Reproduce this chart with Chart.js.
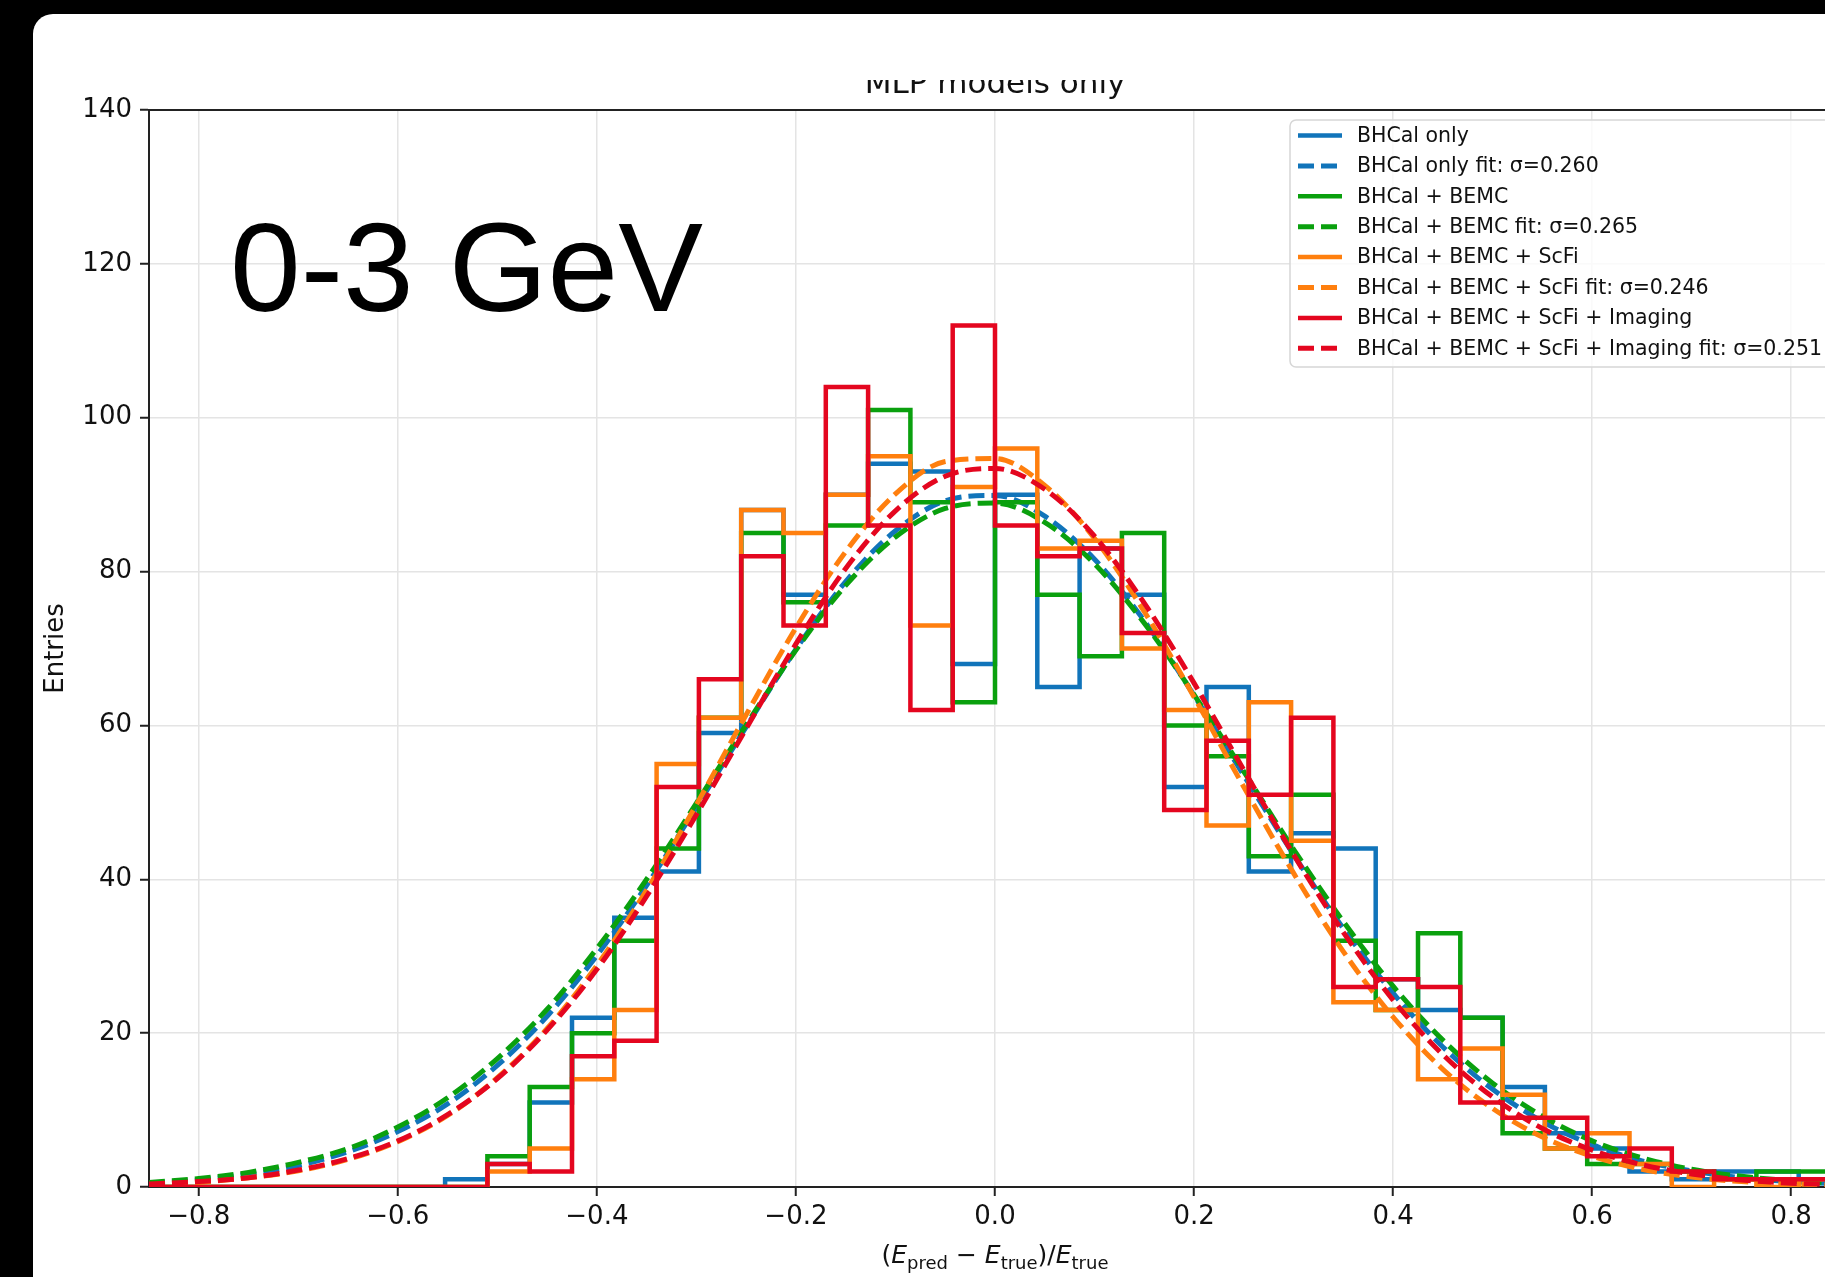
<!DOCTYPE html>
<html>
<head>
<meta charset="utf-8">
<title>MLP models only</title>
<script src="https://cdn.jsdelivr.net/npm/chart.js@4.4.0/dist/chart.umd.min.js"></script>
<style>
  html, body { margin: 0; padding: 0; background: #000; overflow: hidden; width: 1825px; height: 1277px; }
  #wrap { position: absolute; left: 0; top: 0; width: 1900px; height: 1277px; }
</style>
</head>
<body>
<div id="wrap"><canvas id="histChart" width="1900" height="1277"></canvas></div>
<script>
// histogram bins: 40 bins between -0.85 and 0.85
const binStart = -0.85;
const binWidth = 0.0425;

// entries per bin
const countsBHCal   = [0, 0, 0, 0, 0, 0, 0, 1, 3, 11, 22, 35, 41, 59, 88, 77, 90, 94, 93, 68, 90, 65, 83, 77, 52, 65, 41, 46, 44, 27, 23, 22, 13, 7, 5, 2, 1, 2, 2, 1];
const countsBEMC    = [0, 0, 0, 0, 0, 0, 0, 0, 4, 13, 20, 32, 44, 61, 85, 76, 86, 101, 89, 63, 89, 77, 69, 85, 60, 56, 43, 51, 32, 23, 33, 22, 7, 5, 3, 3, 2, 1, 2, 2];
const countsScFi    = [0, 0, 0, 0, 0, 0, 0, 0, 2, 5, 14, 23, 55, 61, 88, 85, 90, 95, 73, 91, 96, 83, 84, 70, 62, 47, 63, 45, 24, 23, 14, 18, 12, 5, 7, 3, 0, 1, 0, 1];
const countsImaging = [0, 0, 0, 0, 0, 0, 0, 0, 3, 2, 17, 19, 52, 66, 82, 73, 104, 86, 62, 112, 86, 82, 83, 72, 49, 58, 51, 61, 26, 27, 26, 11, 9, 9, 4, 5, 2, 1, 1, 1];

// gaussian fit curves, sampled every 0.05
const fitX = [-0.85, -0.8, -0.75, -0.7, -0.65, -0.6, -0.55, -0.5, -0.45, -0.4, -0.35, -0.3, -0.25, -0.2, -0.15, -0.1, -0.05, 0,
              0.05, 0.1, 0.15, 0.2, 0.25, 0.3, 0.35, 0.4, 0.45, 0.5, 0.55, 0.6, 0.65, 0.7, 0.75, 0.8, 0.85];
const fitBHCal   = [0.5, 0.9, 1.7, 2.8, 4.6, 7.2, 10.8, 15.8, 22.2, 30.1, 39.2, 49.4, 59.8, 69.9, 78.7, 85.3, 89.2, 89.9,
                    87.2, 81.6, 73.6, 63.9, 53.5, 43.2, 33.6, 25.2, 18.2, 12.7, 8.5, 5.5, 3.4, 2.1, 1.2, 0.7, 0.4];
const fitBEMC    = [0.6, 1.1, 1.9, 3.2, 5.0, 7.8, 11.6, 16.7, 23.1, 31.0, 40.0, 49.9, 60.1, 69.8, 78.2, 84.5, 88.2, 88.9,
                    86.4, 81.0, 73.3, 64.0, 54.0, 43.9, 34.5, 26.1, 19.1, 13.5, 9.2, 6.0, 3.8, 2.3, 1.4, 0.8, 0.4];
const fitScFi    = [0.3, 0.6, 1.2, 2.1, 3.6, 5.9, 9.3, 14.2, 20.6, 28.8, 38.6, 49.7, 61.4, 72.7, 82.6, 90.1, 94.3, 94.7,
                    91.2, 84.3, 74.8, 63.7, 52.0, 40.8, 30.6, 22.1, 15.3, 10.2, 6.5, 4.0, 2.3, 1.3, 0.7, 0.4, 0.2];
const fitImaging = [0.4, 0.7, 1.2, 2.2, 3.7, 6.0, 9.4, 14.1, 20.4, 28.3, 37.8, 48.4, 59.6, 70.6, 80.4, 87.9, 92.4, 93.4,
                    90.7, 84.6, 75.9, 65.5, 54.2, 43.2, 33.1, 24.3, 17.2, 11.7, 7.6, 4.8, 2.9, 1.7, 0.9, 0.5, 0.3];

const seriesNames = ['BHCal only', 'BHCal + BEMC', 'BHCal + BEMC + ScFi', 'BHCal + BEMC + ScFi + Imaging'];
const sigmas = ['0.260', '0.265', '0.246', '0.251'];

const xTickValues = [-0.8, -0.6, -0.4, -0.2, 0, 0.2, 0.4, 0.6, 0.8];
const yTickValues = [0, 20, 40, 60, 80, 100, 120, 140];

const colors = ['#1174ba', '#0aa00e', '#ff7f0e', '#e4061f'];

// step outline like histtype='step'
function stepPoints(counts) {
    const pts = [{ x: binStart, y: 0 }];
    counts.forEach((c, i) => pts.push({ x: binStart + i * binWidth, y: c }));
    const end = binStart + counts.length * binWidth;
    pts.push({ x: end, y: counts[counts.length - 1] });
    pts.push({ x: end, y: 0 });
    return pts;
}

function curvePoints(ys) {
    return fitX.map((x, i) => ({ x: x, y: ys[i] }));
}

const allCounts = [countsBHCal, countsBEMC, countsScFi, countsImaging];
const allFits = [fitBHCal, fitBEMC, fitScFi, fitImaging];

const datasets = [];
seriesNames.forEach((name, i) => {
    datasets.push({
        label: name,
        data: stepPoints(allCounts[i]),
        borderColor: colors[i],
        borderWidth: 4.5,
        stepped: 'before',
        pointRadius: 0,
        fill: false,
        order: 8 - 2 * i
    });
    datasets.push({
        label: name + ' fit: \u03c3=' + sigmas[i],
        data: curvePoints(allFits[i]),
        borderColor: colors[i],
        borderWidth: 5,
        borderDash: [16, 7],
        cubicInterpolationMode: 'monotone',
        pointRadius: 0,
        fill: false,
        order: 7 - 2 * i
    });
});

const fontMain = '"DejaVu Sans", sans-serif';

// slide frame, title, annotation, axis titles and legend
const decorations = {
    id: 'decorations',
    beforeDraw(chart) {
        const ctx = chart.ctx;
        ctx.save();
        ctx.fillStyle = '#000';
        ctx.fillRect(0, 0, chart.width, chart.height);
        ctx.fillStyle = '#fff';
        ctx.beginPath();
        ctx.roundRect(33, 14, chart.width - 33, chart.height - 14, [20, 0, 0, 0]);
        ctx.fill();
        ctx.restore();
    },
    afterDraw(chart) {
        const ctx = chart.ctx;
        const area = chart.chartArea;
        ctx.save();

        // top spine
        ctx.strokeStyle = '#222';
        ctx.lineWidth = 2;
        ctx.beginPath();
        ctx.moveTo(area.left, area.top);
        ctx.lineTo(area.right, area.top);
        ctx.stroke();

        // title, its upper half hidden on the slide
        ctx.save();
        ctx.beginPath();
        ctx.rect(0, 80, chart.width, 29);
        ctx.clip();
        ctx.fillStyle = '#111';
        ctx.font = '31px ' + fontMain;
        ctx.textAlign = 'center';
        ctx.textBaseline = 'alphabetic';
        ctx.fillText('MLP models only', (area.left + area.right) / 2, 93);
        ctx.restore();

        // energy range label
        ctx.fillStyle = '#000';
        ctx.font = '127px "Liberation Sans", Arial, sans-serif';
        ctx.textAlign = 'left';
        ctx.textBaseline = 'alphabetic';
        ctx.fillText('0-3 GeV', 230, 311);

        // y axis title
        ctx.save();
        ctx.translate(56, (area.top + area.bottom) / 2);
        ctx.rotate(-Math.PI / 2);
        ctx.font = '26px ' + fontMain;
        ctx.textAlign = 'center';
        ctx.textBaseline = 'middle';
        ctx.fillStyle = '#111';
        ctx.fillText('Entries', 0, 0);
        ctx.restore();

        // x axis title: (E_pred - E_true)/E_true
        const parts = [
            ['(', 'n'], ['E', 'i'], ['pred', 's'], [' \u2212 ', 'n'], ['E', 'i'], ['true', 's'],
            [')/', 'n'], ['E', 'i'], ['true', 's']
        ];
        const fs = 25;
        const fontFor = k => k === 'i' ? 'oblique ' + fs + 'px ' + fontMain
            : k === 's' ? Math.round(fs * 0.7) + 'px ' + fontMain
            : fs + 'px ' + fontMain;
        let total = 0;
        parts.forEach(p => { ctx.font = fontFor(p[1]); total += ctx.measureText(p[0]).width; });
        let x = (area.left + area.right) / 2 - total / 2;
        const base = 1263;
        ctx.textAlign = 'left';
        ctx.textBaseline = 'alphabetic';
        ctx.fillStyle = '#111';
        parts.forEach(p => {
            ctx.font = fontFor(p[1]);
            ctx.fillText(p[0], x, p[1] === 's' ? base + 6 : base);
            x += ctx.measureText(p[0]).width;
        });

        // legend
        const lx = 1290, ly = 120, lw = 546, lh = 247;
        ctx.beginPath();
        ctx.roundRect(lx, ly, lw, lh, 6);
        ctx.fillStyle = 'rgba(255,255,255,0.8)';
        ctx.fill();
        ctx.strokeStyle = '#d6d6d6';
        ctx.lineWidth = 1.5;
        ctx.stroke();
        ctx.font = '20.5px ' + fontMain;
        ctx.textBaseline = 'middle';
        chart.data.datasets.forEach((ds, i) => {
            const y = 135.5 + i * 30.4;
            ctx.strokeStyle = ds.borderColor;
            ctx.lineWidth = ds.borderWidth;
            ctx.setLineDash(ds.borderDash || []);
            ctx.beginPath();
            ctx.moveTo(1298, y);
            ctx.lineTo(1342, y);
            ctx.stroke();
            ctx.setLineDash([]);
            ctx.fillStyle = '#111';
            ctx.fillText(ds.label, 1357, y + 1);
        });
        ctx.restore();
    }
};

const tickFont = { family: '"DejaVu Sans", sans-serif', size: 26 };

const myChart = new Chart(document.getElementById('histChart'), {
    type: 'line',
    data: { datasets: datasets },
    options: {
        responsive: false,
        animation: false,
        events: [],
        layout: { padding: { left: 0, top: 110, right: 59, bottom: 0 } },
        plugins: {
            legend: { display: false },
            tooltip: { enabled: false },
            title: { display: false }
        },
        elements: { point: { radius: 0 } },
        scales: {
            x: {
                type: 'linear',
                min: -0.85,
                max: 0.85,
                afterFit: s => { s.height = 90; },
                afterBuildTicks: s => { s.ticks = xTickValues.map(v => ({ value: v })); },
                ticks: {
                    font: tickFont,
                    color: '#111',
                    padding: 6,
                    maxRotation: 0,
                    autoSkip: false,
                    callback: v => (v < 0 ? '\u2212' : '') + Math.abs(v).toFixed(1)
                },
                grid: { color: '#e4e4e4', lineWidth: 1.5, tickColor: '#222', tickLength: 9, tickWidth: 2 },
                border: { color: '#222', width: 2 }
            },
            y: {
                type: 'linear',
                min: 0,
                max: 140,
                afterFit: s => { s.width = 149; },
                afterBuildTicks: s => { s.ticks = yTickValues.map(v => ({ value: v })); },
                ticks: {
                    font: tickFont,
                    color: '#111',
                    padding: 8,
                    autoSkip: false,
                    callback: v => String(v)
                },
                grid: { color: '#e4e4e4', lineWidth: 1.5, tickColor: '#222', tickLength: 9, tickWidth: 2 },
                border: { color: '#222', width: 2 }
            }
        }
    },
    plugins: [decorations]
});
</script>
</body>
</html>
